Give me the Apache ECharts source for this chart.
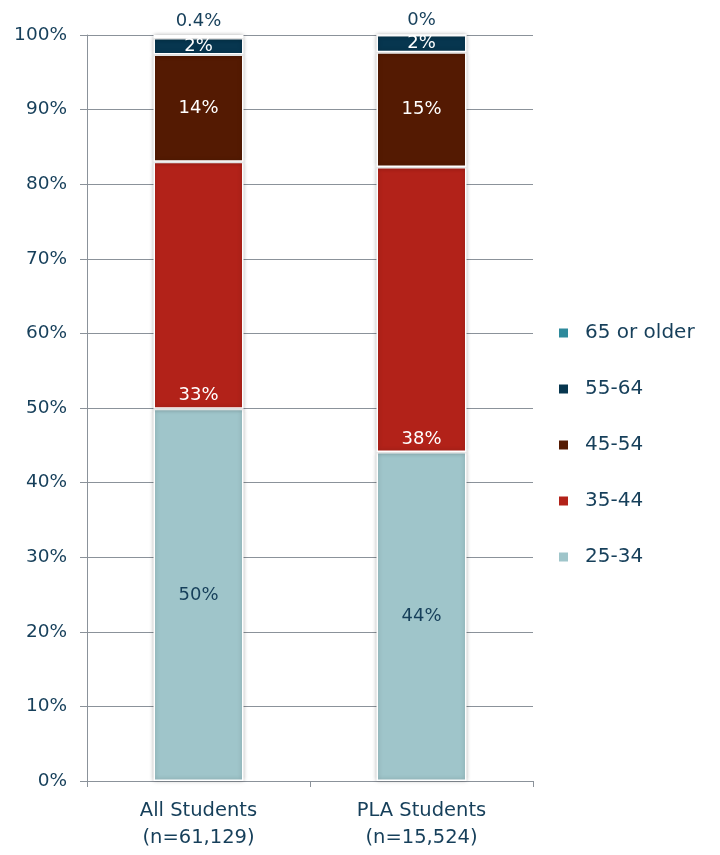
<!DOCTYPE html>
<html>
<head>
<meta charset="utf-8">
<script src="https://cdn.jsdelivr.net/npm/echarts@6/dist/echarts.min.js"></script>
<style>html,body{margin:0;padding:0;background:#fff}#c{width:720px;height:855px}</style>
</head>
<body>
<div id="c"></div>
<script>
const categories = ['All Students\n(n=61,129)', 'PLA Students\n(n=15,524)'];
const seriesNames = ['25-34', '35-44', '45-54', '55-64', '65 or older'];
const v25_34 = [49.9, 44.1];
const v35_44 = [33.1, 38.2];
const v45_54 = [14.4, 15.4];
const v55_64 = [2.2, 2.3];
const v65plus = [0.4, 0];
const legendOrder = ['65 or older', '55-64', '45-54', '35-44', '25-34'];

const colors = ['#9fc5ca', '#b22219', '#541a02', '#07364f', '#2e8a9c'];
const labelColors = ['#163f5a', '#ffffff', '#ffffff', '#ffffff', '#163f5a'];
const labelPos = ['inside', 'insideBottom', 'inside', 'inside', 'top'];
const values = [v25_34, v35_44, v45_54, v55_64, v65plus];
const FONT = 'DejaVu Sans';
const TXT = '#163f5a';

const fmt = p => (p.value < 1 && p.value > 0) ? p.value + '%' : Math.round(p.value) + '%';

const series = seriesNames.map((n, i) => ({
  name: n,
  type: 'bar',
  stack: 'total',
  barWidth: 90,
  data: values[i],
  itemStyle: {
    color: colors[i],
    borderColor: '#ffffff',
    borderWidth: 1.5,
    shadowBlur: 4,
    shadowColor: 'rgba(0,0,0,0.25)',
    shadowOffsetX: 0
  },
  label: {
    show: true,
    position: labelPos[i],
    distance: i === 1 ? 4 : 5,
    color: labelColors[i],
    fontFamily: FONT,
    fontSize: 18,
    formatter: fmt
  }
}));

const chart = echarts.init(document.getElementById('c'), null, {renderer: 'canvas'});
chart.setOption({
  animation: false,
  textStyle: {fontFamily: FONT},
  grid: {left: 87, right: 187, top: 35, bottom: 74, containLabel: false},
  legend: {
    data: legendOrder,
    orient: 'vertical',
    left: 552,
    top: 318,
    itemWidth: 11,
    itemHeight: 11,
    itemGap: 36,
    icon: 'rect',
    textStyle: {color: TXT, fontFamily: FONT, fontSize: 20, padding: [0, 0, 0, 11]}
  },
  xAxis: {
    type: 'category',
    data: categories,
    axisLine: {lineStyle: {color: '#8b929a', width: 1}},
    axisTick: {show: true, length: 6, lineStyle: {color: '#8b929a'}},
    axisLabel: {color: TXT, fontFamily: FONT, fontSize: 19.5, lineHeight: 27, margin: 16}
  },
  yAxis: {
    type: 'value',
    min: 0,
    max: 100,
    interval: 10,
    axisLine: {show: true, lineStyle: {color: '#8b929a'}},
    axisTick: {show: true, length: 7, lineStyle: {color: '#8b929a'}},
    splitLine: {lineStyle: {color: '#8b929a', width: 1}},
    axisLabel: {color: TXT, fontFamily: FONT, fontSize: 18.5, margin: 20, formatter: '{value}%'}
  },
  series: series
});
</script>
</body>
</html>
